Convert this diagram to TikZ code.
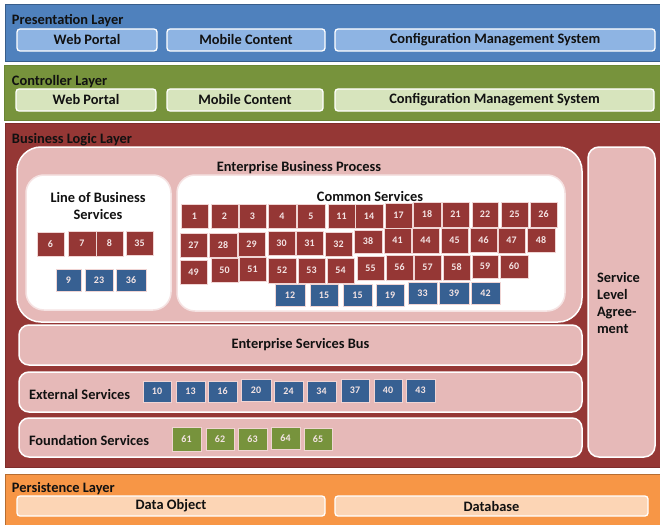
\documentclass[tikz,border=0pt]{standalone}
\usepackage{fontspec}
\setmainfont{Carlito}
\definecolor{presBlue}{HTML}{4F81BD}
\definecolor{presBorder}{HTML}{385D8A}
\definecolor{presInner}{HTML}{8EB4E3}
\definecolor{ctrlGreen}{HTML}{77933C}
\definecolor{ctrlBorder}{HTML}{6A8535}
\definecolor{ctrlInner}{HTML}{D7E4BD}
\definecolor{bizRed}{HTML}{953735}
\definecolor{bizBorder}{HTML}{7F2E2C}
\definecolor{bizInner}{HTML}{E6B9B8}
\definecolor{persOrange}{HTML}{F79646}
\definecolor{persBorder}{HTML}{B66D31}
\definecolor{persInner}{HTML}{FCD5B5}
\definecolor{svcRed}{HTML}{953735}
\definecolor{svcBlue}{HTML}{376092}
\definecolor{svcGreen}{HTML}{77933C}
\definecolor{svcText}{HTML}{F4E4E4}
\definecolor{inkText}{HTML}{111111}
\newcommand\bx[7]{\node[#1, minimum width={(#5)-(#3)}, minimum height={(#6)-(#4)}] (#2) at ({((#3)+(#5))/2},{((#4)+(#6))/2}) {#7};}
\tikzset{
  base/.style={rectangle, inner sep=0pt, outer sep=0pt},
  layer/.style={base, draw, line width=1pt},
  bigfont/.style={font=\bfseries\fontsize{14.4}{17}\selectfont, text=inkText},
  innerbox/.style={base, rounded corners=3pt, draw=white, line width=1.3pt, bigfont},
  title/.style={base, anchor=west, bigfont},
  label/.style={base, bigfont},
  whitebox/.style={base, fill=white, draw=bizInner!40!white, line width=1.5pt},
  pinkbox/.style={base, fill=bizInner, draw=white, line width=1.5pt, bigfont},
  svc/.style={base, draw=bizInner!60!white, line width=0.5pt, text=svcText, font=\bfseries\fontsize{10}{11}\selectfont},
  redsvc/.style={svc, fill=svcRed},
  bluesvc/.style={svc, fill=svcBlue},
  greensvc/.style={svc, fill=svcGreen},
}
\begin{document}
\begin{tikzpicture}[x=1pt, y=-1pt]
\useasboundingbox (0,0) rectangle (660,524);
% layers
\bx{layer, fill=presBlue, draw=presBorder}{presL}{5}{5}{664}{62}{}
\bx{layer, fill=ctrlGreen, draw=ctrlBorder}{ctrlL}{4}{66}{664}{120}{}
\bx{layer, fill=bizRed, draw=bizBorder}{bizL}{5}{123}{664}{467}{}
\bx{layer, fill=persOrange, draw=persBorder}{persL}{5}{474}{664}{528}{}
% titles
\node[title] (tPres) at (12,20.5) {Presentation Layer};
\node[title] (tCtrl) at (12,81.5) {Controller Layer};
\node[title] (tBiz) at (12,139.5) {Business Logic Layer};
\node[title] (tPers) at (12,488.5) {Persistence Layer};
% presentation
\bx{innerbox, fill=presInner}{pWeb}{17}{29}{157}{51}{Web Portal}
\bx{innerbox, fill=presInner}{pMob}{167}{29}{325}{51}{Mobile Content}
\bx{innerbox, fill=presInner}{pCfg}{335}{29}{655}{51}{Configuration Management System}
% controller
\bx{innerbox, fill=ctrlInner}{cWeb}{16}{89}{156}{111}{Web Portal}
\bx{innerbox, fill=ctrlInner}{cMob}{167}{89}{323}{111}{Mobile Content}
\bx{innerbox, fill=ctrlInner}{cCfg}{335}{89}{654}{111}{Configuration Management System}
% persistence
\bx{innerbox, fill=persInner}{dObj}{17}{496}{325}{516}{Data Object}
\bx{innerbox, fill=persInner}{dDb}{335}{496}{648}{516}{Database}
% business
\bx{pinkbox, rounded corners=24pt}{ebp}{17}{147}{582}{322}{}
\node[label] (tEbp) at (299,168) {Enterprise Business Process};
\bx{whitebox, rounded corners=18pt}{lob}{26}{175}{171}{310}{}
\bx{whitebox, rounded corners=18pt}{cs}{177}{175}{565}{311}{}
\node[label, align=center] (tLob) at (98,206) {Line of Business\\Services};
\node[label] (tCs) at (370,196) {Common Services};
\bx{pinkbox, rounded corners=11pt}{sla}{588}{147}{655}{457}{}
\node[label, anchor=west, align=left] (tSla) at (597,303) {Service\\Level\\Agree-\\ment};
\bx{pinkbox, rounded corners=10pt}{esb}{19}{325}{582}{365}{Enterprise Services Bus}
\bx{pinkbox, rounded corners=10pt}{ext}{19}{372}{582}{412}{}
\bx{pinkbox, rounded corners=10pt}{fnd}{19}{418}{582}{457}{}
\node[title] (tExt) at (29,394) {External Services};
\node[title] (tFnd) at (29,440) {Foundation Services};
% line of business services
\bx{redsvc}{s6}{37}{232}{64}{256}{6}
\bx{redsvc}{s7}{68}{231}{96}{256}{7}
\bx{redsvc}{s8}{96}{231}{123}{256}{8}
\bx{redsvc}{s35}{126}{231}{153}{255}{35}
\bx{bluesvc}{s9}{56}{269}{81}{291}{9}
\bx{bluesvc}{s23}{85}{269}{113}{291}{23}
\bx{bluesvc}{s36}{116}{269}{146}{291}{36}
% common services row 1
\bx{redsvc}{s1}{181}{204}{208}{228}{1}
\bx{redsvc}{s2}{211}{204}{238}{228}{2}
\bx{redsvc}{s3}{239}{204}{266}{228}{3}
\bx{redsvc}{s4}{268}{204}{296}{228}{4}
\bx{redsvc}{s5}{297}{204}{325}{228}{5}
\bx{redsvc}{s11}{328}{204}{355}{228}{11}
\bx{redsvc}{s14}{355}{204}{383}{228}{14}
\bx{redsvc}{s17}{385}{203}{412}{228}{17}
\bx{redsvc}{s18}{413}{202}{441}{227}{18}
\bx{redsvc}{s21}{442}{202}{469}{227}{21}
\bx{redsvc}{s22}{472}{202}{498}{227}{22}
\bx{redsvc}{s25}{501}{202}{528}{227}{25}
\bx{redsvc}{s26}{530}{202}{557}{227}{26}
% row 2
\bx{redsvc}{s27}{180}{233}{207}{257}{27}
\bx{redsvc}{s28}{209}{233}{237}{257}{28}
\bx{redsvc}{s29}{238}{232}{265}{256}{29}
\bx{redsvc}{s30}{268}{231}{295}{255}{30}
\bx{redsvc}{s31}{296}{231}{323}{255}{31}
\bx{redsvc}{s32}{325}{232}{352}{256}{32}
\bx{redsvc}{s38}{354}{230}{382}{253}{38}
\bx{redsvc}{s41}{384}{228}{411}{253}{41}
\bx{redsvc}{s44}{412}{228}{439}{253}{44}
\bx{redsvc}{s45}{441}{228}{468}{253}{45}
\bx{redsvc}{s46}{470}{228}{497}{252}{46}
\bx{redsvc}{s47}{498}{228}{525}{253}{47}
\bx{redsvc}{s48}{527}{228}{555}{252}{48}
% row 3
\bx{redsvc}{s49}{180}{260}{207}{284}{49}
\bx{redsvc}{s50}{211}{258}{238}{282}{50}
\bx{redsvc}{s51}{239}{257}{266}{281}{51}
\bx{redsvc}{s52}{268}{258}{296}{283}{52}
\bx{redsvc}{s53}{298}{258}{325}{283}{53}
\bx{redsvc}{s54}{327}{258}{354}{283}{54}
\bx{redsvc}{s55}{357}{256}{384}{280}{55}
\bx{redsvc}{s56}{386}{255}{413}{280}{56}
\bx{redsvc}{s57}{414}{255}{441}{280}{57}
\bx{redsvc}{s58}{443}{255}{470}{280}{58}
\bx{redsvc}{s59}{472}{255}{498}{278}{59}
\bx{redsvc}{s60}{500}{255}{528}{278}{60}
% row 4
\bx{bluesvc}{s12}{275}{284}{305}{306}{12}
\bx{bluesvc}{s15a}{310}{284}{338}{306}{15}
\bx{bluesvc}{s15b}{343}{284}{372}{306}{15}
\bx{bluesvc}{s19}{376}{284}{404}{306}{19}
\bx{bluesvc}{s33}{408}{282}{437}{304}{33}
\bx{bluesvc}{s39}{439}{282}{469}{304}{39}
\bx{bluesvc}{s42}{471}{282}{500}{304}{42}
% external services
\bx{bluesvc}{s10}{143}{381}{171}{402}{10}
\bx{bluesvc}{s13}{176}{381}{205}{402}{13}
\bx{bluesvc}{s16}{208}{381}{237}{402}{16}
\bx{bluesvc}{s20}{241}{379}{271}{401}{20}
\bx{bluesvc}{s24}{274}{381}{303}{402}{24}
\bx{bluesvc}{s34}{307}{381}{336}{402}{34}
\bx{bluesvc}{s37}{341}{379}{369}{402}{37}
\bx{bluesvc}{s40}{374}{379}{402}{402}{40}
\bx{bluesvc}{s43}{406}{379}{435}{402}{43}
% foundation services
\bx{greensvc}{s61}{172}{427}{201}{451}{61}
\bx{greensvc}{s62}{206}{428}{234}{450}{62}
\bx{greensvc}{s63}{238}{428}{267}{450}{63}
\bx{greensvc}{s64}{271}{427}{300}{449}{64}
\bx{greensvc}{s65}{304}{428}{332}{450}{65}
\end{tikzpicture}
\end{document}
